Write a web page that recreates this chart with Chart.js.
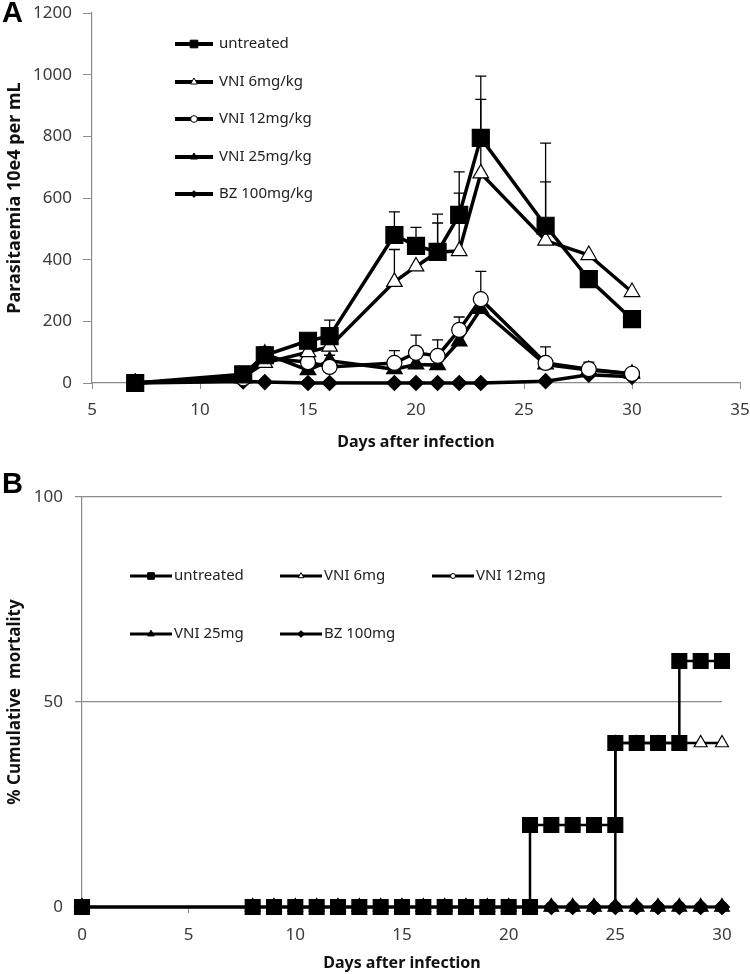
<!DOCTYPE html>
<html>
<head>
<meta charset="utf-8">
<script src="https://cdn.jsdelivr.net/npm/chart.js@4/dist/chart.umd.min.js"></script>
<style>
  html, body { margin: 0; padding: 0; background: #fff; }
  #page { position: relative; width: 750px; height: 974px; overflow: hidden; }
  .panel { position: absolute; left: 0; width: 750px; }
  .letter { position: absolute; font-family: "Liberation Sans", Arial, sans-serif; font-weight: bold; font-size: 29px; color: #000; }
</style>
</head>
<body>
<div id="page">
  <div class="panel" style="top:0;height:460px"><canvas id="chartA" width="750" height="460"></canvas></div>
  <div class="panel" style="top:460px;height:514px"><canvas id="chartB" width="750" height="514"></canvas></div>
  <div class="letter" style="left:2px;top:-4px">A</div>
  <div class="letter" style="left:2px;top:467px">B</div>
</div>
<script>
// ---- Panel A: parasitaemia (10e4 per mL) ----
const daysA = [7, 12, 13, 15, 16, 19, 20, 21, 22, 23, 26, 28, 30];
const untreatedA = [0, 28, 90, 137, 152, 480, 445, 425, 545, 795, 510, 337, 207];
const vni6A = [0, 20, 65, 100, 118, 328, 378, 425, 428, 680, 462, 415, 295];
const vni12A = [0, 15, 80, 68, 52, 65, 98, 88, 172, 272, 65, 45, 30];
const vni25A = [0, 18, 95, 42, 72, 45, 60, 58, 135, 240, 60, 42, 30];
const bzA = [0, 5, 3, 0, 0, 0, 0, 0, 0, 0, 6, 27, 20];
// upper error bars (SD), null where none is drawn
const untreatedErr = [null, null, 27, null, 52, 75, 60, 123, 140, 200, 268, null, null];
const vni6Err = [null, null, null, null, null, 105, null, 94, 188, 240, 190, null, null];
const vni12Err = [null, null, null, null, 38, 40, 57, 52, 42, 90, 52, 23, null];
const xTicksA = [5, 10, 15, 20, 25, 30, 35];
const yTicksA = [0, 200, 400, 600, 800, 1000, 1200];

// ---- Panel B: cumulative mortality (%) ----
const untreatedDaysB = [0, 8, 9, 10, 11, 12, 13, 14, 15, 16, 17, 18, 19, 20, 21, 21, 22, 23, 24, 25, 25, 26, 27, 28, 28, 29, 30];
const untreatedMortB = [0, 0, 0, 0, 0, 0, 0, 0, 0, 0, 0, 0, 0, 0, 0, 20, 20, 20, 20, 20, 40, 40, 40, 40, 60, 60, 60];
const vni6DaysB = [0, 8, 9, 10, 11, 12, 13, 14, 15, 16, 17, 18, 19, 20, 21, 22, 23, 24, 25, 25, 26, 27, 28, 29, 30];
const vni6MortB = [0, 0, 0, 0, 0, 0, 0, 0, 0, 0, 0, 0, 0, 0, 0, 0, 0, 0, 0, 40, 40, 40, 40, 40, 40];
const daysB = [0, 8, 9, 10, 11, 12, 13, 14, 15, 16, 17, 18, 19, 20, 21, 22, 23, 24, 25, 26, 27, 28, 29, 30];
const vni12MortB = [0, 0, 0, 0, 0, 0, 0, 0, 0, 0, 0, 0, 0, 0, 0, 0, 0, 0, 0, 0, 0, 0, 0, 0];
const vni25MortB = [0, 0, 0, 0, 0, 0, 0, 0, 0, 0, 0, 0, 0, 0, 0, 0, 0, 0, 0, 0, 0, 0, 0, 0];
const bzMortB = [0, 0, 0, 0, 0, 0, 0, 0, 0, 0, 0, 0, 0, 0, 0, 0, 0, 0, 0, 0, 0, 0, 0, 0];
const xTicksB = [0, 5, 10, 15, 20, 25, 30];
const yTicksB = [0, 50, 100];

function toPoints(xs, ys) {
  return xs.map(function(x, i) { return { x: x, y: ys[i] }; });
}

const tickFont = { family: "'Noto Sans', sans-serif", size: 17 };
const axisGrey = '#8c8c8c';
const plainLabel = function(v) { return String(v); };

// fixed axis box sizes, no extra label overflow padding
function fixBox(size) {
  return function(s) {
    if (s.isHorizontal()) s.height = size; else s.width = size;
    s.paddingTop = 0; s.paddingBottom = 0; s.paddingLeft = 0; s.paddingRight = 0;
  };
}

// upward-only error bars with a small cap
const errorBarPlugin = {
  id: 'errorBars',
  beforeDatasetsDraw(chart) {
    const ctx = chart.ctx;
    const xs = chart.scales.x, ys = chart.scales.y;
    ctx.save();
    ctx.strokeStyle = '#000';
    ctx.lineWidth = 1.3;
    chart.data.datasets.forEach(function(ds) {
      if (!ds.errors) return;
      ds.data.forEach(function(p, i) {
        const e = ds.errors[i];
        if (e == null) return;
        const px = xs.getPixelForValue(p.x);
        const y0 = ys.getPixelForValue(p.y);
        const y1 = ys.getPixelForValue(p.y + e);
        ctx.beginPath();
        ctx.moveTo(px, y0);
        ctx.lineTo(px, y1);
        ctx.moveTo(px - 5.5, y1);
        ctx.lineTo(px + 5.5, y1);
        ctx.stroke();
      });
    });
    ctx.restore();
  }
};

// legend samples placed inside the plot like the original
const sampleLegend = {
  id: 'sampleLegend',
  afterDraw(chart, args, opts) {
    const ctx = chart.ctx;
    ctx.save();
    opts.items.forEach(function(item) {
      const ds = chart.data.datasets[item.index];
      ctx.strokeStyle = '#000';
      ctx.lineWidth = opts.lineWidth;
      ctx.beginPath();
      ctx.moveTo(item.x, item.y);
      ctx.lineTo(item.x + opts.lineLength, item.y);
      ctx.stroke();
      ctx.fillStyle = ds.pointBackgroundColor;
      ctx.strokeStyle = '#000';
      ctx.lineWidth = 1;
      Chart.helpers.drawPoint(ctx, {
        pointStyle: ds.pointStyle,
        radius: ds.pointRadius * opts.markerScale,
        rotation: 0,
        borderWidth: 1
      }, item.x + opts.lineLength / 2, item.y);
      ctx.fillStyle = '#222';
      ctx.font = opts.font;
      ctx.textBaseline = 'middle';
      ctx.textAlign = 'left';
      ctx.fillText(ds.label, item.x + opts.lineLength + opts.gap, item.y);
    });
    ctx.restore();
  }
};

function series(label, xs, ys, style, radius, fill, width, order) {
  return {
    label: label,
    data: toPoints(xs, ys),
    borderColor: '#000',
    borderWidth: width,
    pointStyle: style,
    pointRadius: radius,
    pointBackgroundColor: fill,
    pointBorderColor: '#000',
    pointBorderWidth: 1.2,
    tension: 0,
    clip: false,
    order: order
  };
}

const dsA = [
  series('untreated', daysA, untreatedA, 'rect', 12, '#000', 3.5, 0),
  series('VNI 6mg/kg', daysA, vni6A, 'triangle', 9, '#fff', 3.5, 1),
  series('VNI 12mg/kg', daysA, vni12A, 'circle', 7.5, '#fff', 3.5, 2),
  series('VNI 25mg/kg', daysA, vni25A, 'triangle', 9, '#000', 3.5, 3),
  series('BZ 100mg/kg', daysA, bzA, 'rectRot', 7.5, '#000', 3.5, 4)
];
dsA[0].errors = untreatedErr;
dsA[1].errors = vni6Err;
dsA[2].errors = vni12Err;

new Chart(document.getElementById('chartA'), {
  type: 'line',
  data: { datasets: dsA },
  plugins: [errorBarPlugin, sampleLegend],
  options: {
    responsive: false,
    animation: false,
    events: [],
    layout: { autoPadding: false, padding: { top: 13, right: 10, left: 0, bottom: 0 } },
    plugins: {
      legend: { display: false },
      tooltip: { enabled: false },
      sampleLegend: {
        lineLength: 38, lineWidth: 4, markerScale: 0.45, gap: 6,
        font: "15px 'Noto Sans', sans-serif",
        items: [
          { index: 0, x: 175, y: 44 },
          { index: 1, x: 175, y: 82 },
          { index: 2, x: 175, y: 119 },
          { index: 3, x: 175, y: 157 },
          { index: 4, x: 175, y: 194 }
        ]
      }
    },
    scales: {
      x: {
        type: 'linear',
        min: 5, max: 35,
        afterBuildTicks: function(s) { s.ticks = xTicksA.map(function(v) { return { value: v }; }); },
        afterFit: fixBox(77),
        ticks: { font: tickFont, color: '#3a3a3a', padding: 11, maxRotation: 0, callback: plainLabel },
        grid: { drawOnChartArea: false, tickLength: 6, color: axisGrey },
        border: { color: axisGrey, width: 1.2 },
        title: { display: true, text: 'Days after infection', color: '#111',
                 font: { family: "'Noto Sans', sans-serif", size: 16, weight: 'bold' },
                 padding: { top: 0, bottom: 8 } }
      },
      y: {
        min: 0, max: 1200,
        afterBuildTicks: function(s) { s.ticks = yTicksA.map(function(v) { return { value: v }; }); },
        afterFit: fixBox(92),
        ticks: { font: tickFont, color: '#3a3a3a', padding: 11, callback: plainLabel },
        grid: { drawOnChartArea: false, tickLength: 9, color: axisGrey },
        border: { color: axisGrey, width: 1.2 },
        title: { display: true, text: 'Parasitaemia 10e4 per mL', color: '#111',
                 font: { family: "'Noto Sans', sans-serif", size: 18, weight: 'bold' },
                 padding: { top: 4, bottom: 0 } }
      }
    }
  }
});

const dsB = [
  series('untreated', untreatedDaysB, untreatedMortB, 'rect', 10.5, '#000', 2.5, 0),
  series('VNI 6mg', vni6DaysB, vni6MortB, 'triangle', 7.5, '#fff', 2.5, 3),
  series('VNI 12mg', daysB, vni12MortB, 'circle', 5.5, '#fff', 2.5, 4),
  series('VNI 25mg', daysB, vni25MortB, 'triangle', 8.5, '#000', 2.5, 1),
  series('BZ 100mg', daysB, bzMortB, 'rectRot', 7.5, '#000', 2.5, 2)
];

new Chart(document.getElementById('chartB'), {
  type: 'line',
  data: { datasets: dsB },
  plugins: [sampleLegend],
  options: {
    responsive: false,
    animation: false,
    events: [],
    layout: { autoPadding: false, padding: { top: 37, right: 28, left: 0, bottom: 0 } },
    plugins: {
      legend: { display: false },
      tooltip: { enabled: false },
      sampleLegend: {
        lineLength: 42, lineWidth: 3, markerScale: 0.45, gap: 2,
        font: "15px 'Noto Sans', sans-serif",
        items: [
          { index: 0, x: 130, y: 116 },
          { index: 1, x: 280, y: 116 },
          { index: 2, x: 432, y: 116 },
          { index: 3, x: 130, y: 174 },
          { index: 4, x: 280, y: 174 }
        ]
      }
    },
    scales: {
      x: {
        type: 'linear',
        min: 0, max: 30,
        afterBuildTicks: function(s) { s.ticks = xTicksB.map(function(v) { return { value: v }; }); },
        afterFit: fixBox(67),
        ticks: { font: tickFont, color: '#3a3a3a', padding: 12, maxRotation: 0, callback: plainLabel },
        grid: { drawOnChartArea: false, tickLength: 6, color: axisGrey },
        border: { color: axisGrey, width: 1.2 },
        title: { display: true, text: 'Days after infection', color: '#111',
                 font: { family: "'Noto Sans', sans-serif", size: 16, weight: 'bold' },
                 padding: { top: 0, bottom: 1 } }
      },
      y: {
        min: 0, max: 100,
        afterBuildTicks: function(s) { s.ticks = yTicksB.map(function(v) { return { value: v }; }); },
        afterFit: fixBox(82),
        ticks: { font: tickFont, color: '#3a3a3a', padding: 12, callback: plainLabel },
        grid: { drawOnChartArea: true, tickLength: 7, color: axisGrey, lineWidth: 1.2 },
        border: { color: axisGrey, width: 1.2 },
        title: { display: true, text: '% Cumulative  mortality', color: '#111',
                 font: { family: "'Noto Sans', sans-serif", size: 17, weight: 'bold' },
                 padding: { top: 5, bottom: 0 } }
      }
    }
  }
});
</script>
</body>
</html>
